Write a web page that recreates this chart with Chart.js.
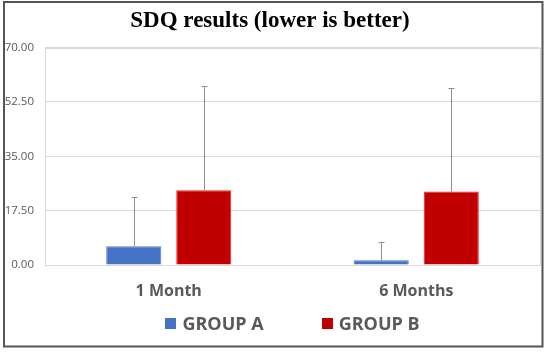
<!DOCTYPE html>
<html>
<head>
<meta charset="utf-8">
<script src="https://cdn.jsdelivr.net/npm/chart.js@4.4.0/dist/chart.umd.min.js"></script>
<style>
    body { margin: 0; background: #fff; }
    #wrap { position: relative; width: 550px; height: 353px; }
</style>
</head>
<body>
<div id="wrap"><canvas id="sdqChart" width="550" height="353"></canvas></div>
<script>
// SDQ chart data
const categories = ['1 Month', '6 Months'];
const seriesNames = ['GROUP A', 'GROUP B'];
const groupA = [6.0, 1.5];
const groupB = [24.1, 23.7];
const groupAErr = [15.9, 5.9];
const groupBErr = [33.4, 33.3];
const yTicks = [0, 17.5, 35, 52.5, 70];

const textGray = '#595959';

// Outer frame and plot border
const framePlugin = {
    id: 'frame',
    afterDraw(chart) {
        const ctx = chart.ctx;
        const a = chart.chartArea;
        ctx.save();
        ctx.strokeStyle = '#d9d9d9';
        ctx.lineWidth = 1;
        ctx.strokeRect(Math.round(a.left) + 0.5, Math.round(a.top) + 0.5,
            Math.round(a.right - a.left), Math.round(a.bottom - a.top));
        ctx.strokeStyle = '#555555';
        ctx.lineWidth = 2;
        ctx.strokeRect(4, 2, 538.5, 344.5);
        ctx.restore();
    }
};

// Upper error bars on each bar
const errorBarPlugin = {
    id: 'errorBars',
    afterDatasetsDraw(chart) {
        const ctx = chart.ctx;
        const yScale = chart.scales.y;
        ctx.save();
        ctx.strokeStyle = '#8f8f8f';
        ctx.lineWidth = 1;
        chart.data.datasets.forEach((ds, di) => {
            const meta = chart.getDatasetMeta(di);
            meta.data.forEach((bar, i) => {
                const x = Math.round(bar.x) + 0.5;
                const yTop = Math.round(yScale.getPixelForValue(ds.data[i] + ds.errors[i])) + 0.5;
                ctx.beginPath();
                ctx.moveTo(x, bar.y);
                ctx.lineTo(x, yTop);
                ctx.moveTo(x - 3, yTop);
                ctx.lineTo(x + 3, yTop);
                ctx.stroke();
            });
        });
        ctx.restore();
    }
};

// Legend drawn below the axis
const legendPlugin = {
    id: 'bottomLegend',
    afterDraw(chart) {
        const ctx = chart.ctx;
        const a = chart.chartArea;
        const box = 11, gap = 6, spacing = 58, y = 323.5;
        ctx.save();
        ctx.font = 'bold 18px "Open Sans"';
        const widths = chart.data.datasets.map(ds => ctx.measureText(ds.label).width);
        let total = 0;
        widths.forEach((w, i) => { total += box + gap + w + (i > 0 ? spacing : 0); });
        let x = (a.left + a.right) / 2 - total / 2;
        ctx.textBaseline = 'middle';
        chart.data.datasets.forEach((ds, i) => {
            ctx.fillStyle = ds.backgroundColor;
            ctx.fillRect(Math.round(x), Math.round(y - box / 2), box, box);
            ctx.fillStyle = textGray;
            ctx.fillText(ds.label, x + box + gap, y + 1);
            x += box + gap + widths[i] + spacing;
        });
        ctx.restore();
    }
};

const ctx = document.getElementById('sdqChart').getContext('2d');
new Chart(ctx, {
    type: 'bar',
    data: {
        labels: categories,
        datasets: [{
            label: seriesNames[0],
            data: groupA,
            errors: groupAErr,
            backgroundColor: '#4472C4',
            borderColor: '#4a7bd0',
            borderWidth: 1
        }, {
            label: seriesNames[1],
            data: groupB,
            errors: groupBErr,
            backgroundColor: '#C00000',
            borderColor: '#ff1a1a',
            borderWidth: 1
        }]
    },
    options: {
        responsive: false,
        animation: false,
        categoryPercentage: 0.566,
        barPercentage: 0.786,
        layout: {
            padding: { left: 0, right: 10, top: 0, bottom: 43 }
        },
        plugins: {
            legend: { display: false },
            tooltip: { enabled: false },
            title: {
                display: true,
                text: 'SDQ results (lower is better)',
                color: '#000',
                font: { family: '"Liberation Serif"', size: 23, weight: 'bold' },
                padding: { top: 7, bottom: 13 }
            }
        },
        scales: {
            x: {
                grid: { display: false },
                border: { display: false },
                ticks: {
                    color: textGray,
                    padding: 9,
                    font: { family: '"Open Sans"', size: 16, weight: 'bold' }
                },
                afterFit(scale) { scale.height = 45; }
            },
            y: {
                min: 0,
                max: 70,
                afterBuildTicks(scale) {
                    scale.ticks = yTicks.map(v => ({ value: v }));
                },
                grid: { color: '#d9d9d9', drawTicks: false },
                border: { display: false },
                ticks: {
                    color: textGray,
                    padding: 11,
                    font: { family: '"Open Sans"', size: 11.5 },
                    callback: v => Number(v).toFixed(2)
                },
                afterFit(scale) { scale.width = 45; }
            }
        }
    },
    plugins: [errorBarPlugin, framePlugin, legendPlugin]
});
</script>
</body>
</html>
